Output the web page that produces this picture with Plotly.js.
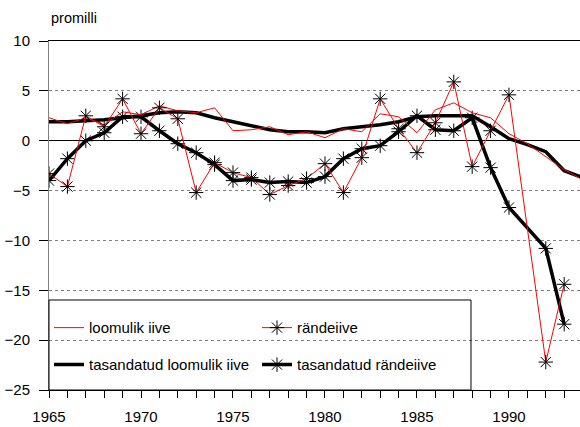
<!DOCTYPE html>
<html>
<head>
<meta charset="utf-8">
<script src="https://cdn.plot.ly/plotly-3.0.1.min.js"></script>
<style>html,body{margin:0;padding:0;background:#fff;}#chart{width:580px;height:427px;}</style>
</head>
<body>
<div id="chart"></div>
<script>
// Years for natural increase series
var yearsNat = [1965,1966,1967,1968,1969,1970,1971,1972,1973,1974,1975,1976,1977,1978,1979,1980,1981,1982,1983,1984,1985,1986,1987,1988,1989,1990,1991,1992,1993,1994];
var loomulikIive = [2.3,1.7,2.3,1.6,2.9,2.6,3.5,3.0,2.8,3.3,1.0,1.1,1.4,0.6,0.9,0.3,1.2,0.9,2.7,2.4,0.8,3.1,3.8,2.8,2.3,0.7,-0.3,-1.6,-2.9,-3.9];
var tasLoomulikIive = [1.9,1.9,2.0,2.1,2.3,2.5,2.8,2.9,2.8,2.3,1.9,1.5,1.1,0.9,0.9,0.8,1.2,1.4,1.6,1.9,2.4,2.5,2.5,2.5,1.4,0.2,-0.4,-1.1,-3.0,-3.7];
// Years for migration series (no 1991 value)
var yearsMig = [1965,1966,1967,1968,1969,1970,1971,1972,1973,1974,1975,1976,1977,1978,1979,1980,1981,1982,1983,1984,1985,1986,1987,1988,1989,1990,1992,1993];
var randeiive = [-3.3,-4.6,2.5,1.4,4.2,0.7,3.3,2.2,-5.2,-2.2,-3.2,-3.7,-5.4,-4.5,-3.8,-2.3,-5.2,-1.7,4.2,1.2,-1.2,1.8,5.9,-2.6,1.0,4.6,-22.2,-14.4];
var tasRandeiive = [-4.0,-1.8,0.0,0.8,2.4,2.4,1.0,-0.3,-1.2,-2.4,-4.0,-3.9,-4.2,-4.1,-4.2,-3.6,-1.8,-0.8,-0.5,0.9,2.5,1.1,1.0,2.3,-2.7,-6.7,-10.8,-18.4];
var names = ['loomulik iive','rändeiive','tasandatud loomulik iive','tasandatud rändeiive'];
var xTickVals = [1965,1970,1975,1980,1985,1990];
var yTickVals = [-25,-20,-15,-10,-5,0,5,10];

var FONT = '"Liberation Sans", Arial, sans-serif';
var star = {symbol:'asterisk-open', size:12, color:'#000', line:{color:'#000', width:1}};

var traces = [
  {x:yearsNat, y:tasLoomulikIive, name:names[2], mode:'lines', line:{color:'#000', width:3.5}, legend:'legend2'},
  {x:yearsMig, y:tasRandeiive, name:names[3], mode:'lines+markers', line:{color:'#000', width:3.5}, marker:star, legend:'legend2'},
  {x:yearsNat, y:loomulikIive, name:names[0], mode:'lines', line:{color:'#ff0000', width:1}, legend:'legend'},
  {x:yearsMig, y:randeiive, name:names[1], mode:'lines+markers', line:{color:'#ff0000', width:1}, marker:star, legend:'legend'}
];

var legCommon = {orientation:'h', bgcolor:'rgba(0,0,0,0)', borderwidth:0, font:{family:FONT, size:15, color:'#000'},
  entrywidth:163, entrywidthmode:'pixels', xanchor:'left', yanchor:'middle', itemclick:false, itemdoubleclick:false, traceorder:'normal'};

var layout = {
  width:580, height:427,
  margin:{l:49, r:0, t:41, b:37, pad:0},
  paper_bgcolor:'#fff', plot_bgcolor:'#fff',
  font:{family:FONT, size:15, color:'#000'},
  showlegend:true,
  legend:Object.assign({}, legCommon, {x:0.0, y:0.178}),
  legend2:Object.assign({}, legCommon, {x:0.0, y:0.072}),
  xaxis:{range:[1965,1993.86], tickvals:xTickVals, ticks:'outside', ticklen:7, tickcolor:'#000', tickwidth:1,
    showline:true, linecolor:'#000', linewidth:1, mirror:true, showgrid:false, zeroline:false, ticklabelstandoff:6,
    minor:{dtick:1, tick0:1965, ticks:'outside', ticklen:7, tickcolor:'#000', showgrid:false},
    tickfont:{family:FONT, size:15, color:'#000'}, fixedrange:true},
  yaxis:{range:[-25,10], tickvals:yTickVals, ticks:'outside', ticklen:9, tickcolor:'#000', tickwidth:1,
    showline:true, linecolor:'#808080', linewidth:1, showgrid:true, gridcolor:'#808080', griddash:'dot', gridwidth:1,
    zeroline:true, zerolinecolor:'#000', zerolinewidth:1.5, ticklabelstandoff:6,
    tickfont:{family:FONT, size:15, color:'#000'}, fixedrange:true},
  shapes:[
    {type:'rect', xref:'paper', yref:'paper', x0:0, x1:0.7947, y0:0, y1:0.2579, line:{color:'#000', width:1}, fillcolor:'rgba(0,0,0,0)', layer:'above'}
  ],
  annotations:[
    {text:'promilli', xref:'paper', yref:'paper', x:0, y:1.066, xanchor:'left', yanchor:'middle', showarrow:false, font:{family:FONT, size:14.5, color:'#000'}}
  ]
};

Plotly.newPlot('chart', traces, layout, {staticPlot:true, displayModeBar:false});
</script>
</body>
</html>
